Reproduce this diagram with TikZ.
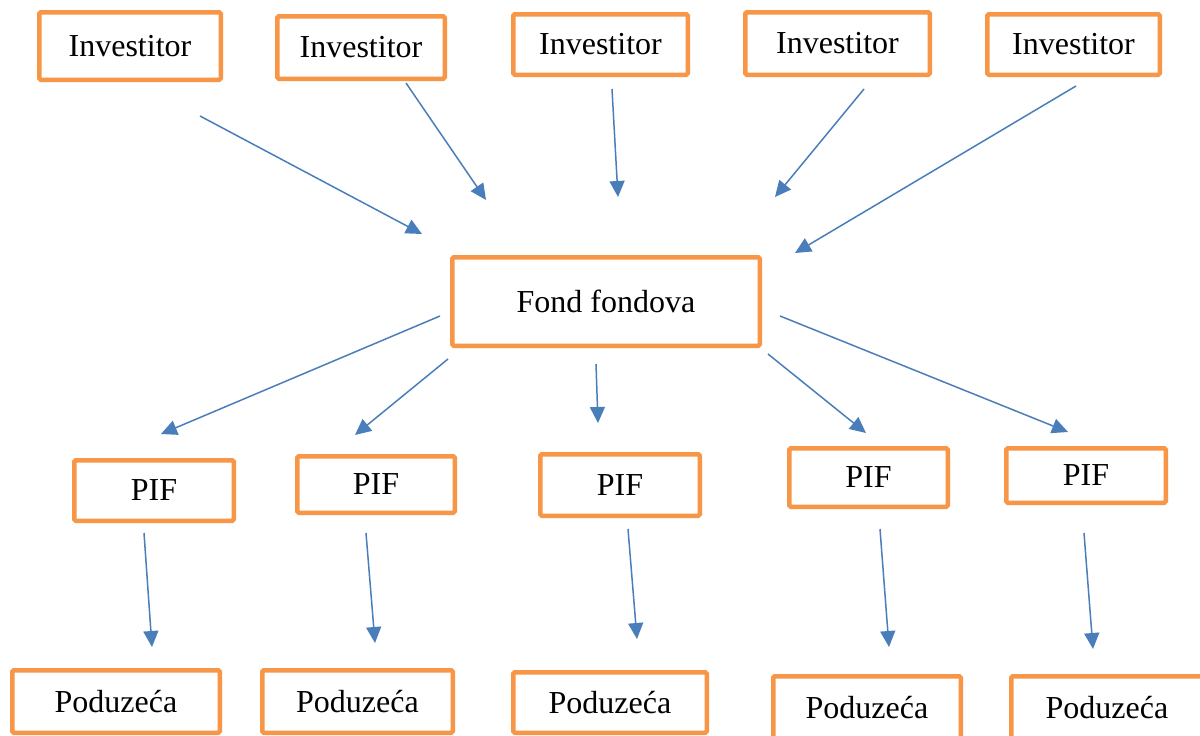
\documentclass[tikz,border=0pt]{standalone}
\usepackage{fontspec}
\setmainfont{Liberation Serif}
\usetikzlibrary{arrows.meta}
\definecolor{boxorange}{HTML}{F79646}
\definecolor{arrowblue}{HTML}{4A7EBB}
\tikzset{
  box/.style={draw=boxorange, line width=4.5pt, rounded corners=1.5pt, fill=white,
    inner sep=0pt, font=\fontsize{32}{38}\selectfont, text=black},
  conn/.style={draw=arrowblue, line width=1.5pt,
    -{Triangle[length=16pt,width=15pt]}},
}
\begin{document}
\begin{tikzpicture}[x=1pt,y=-1pt]
\useasboundingbox (0,0) rectangle (1200,736);
\clip (0,0) rectangle (1200,736);
\fill[white] (0,0) rectangle (1200,736);
% investors
\node[box, minimum width=181.5pt, minimum height=67.5pt] (i1) at (130,46) {Investitor};
\node[box, minimum width=167.5pt, minimum height=62.5pt] (i2) at (361,47.5) {Investitor};
\node[box, minimum width=174.5pt, minimum height=60.5pt] (i3) at (600.5,44.5) {Investitor};
\node[box, minimum width=184.5pt, minimum height=62.5pt] (i4) at (837.5,43.5) {Investitor};
\node[box, minimum width=172.5pt, minimum height=60.5pt] (i5) at (1073.5,44.5) {Investitor};
% fund of funds
\node[box, minimum width=307.5pt, minimum height=88.5pt] (f) at (606,301.5) {Fond fondova};
% PIF
\node[box, minimum width=159.5pt, minimum height=60.5pt] (p1) at (154,490.5) {PIF};
\node[box, minimum width=157.5pt, minimum height=56.5pt] (p2) at (376,484.5) {PIF};
\node[box, minimum width=159.5pt, minimum height=61.5pt] (p3) at (620,485) {PIF};
\node[box, minimum width=158.5pt, minimum height=58.5pt] (p4) at (868.5,477.5) {PIF};
\node[box, minimum width=159.5pt, minimum height=54.5pt] (p5) at (1086,475.5) {PIF};
% companies
\node[box, minimum width=207.5pt, minimum height=62.5pt] (d1) at (116,701.5) {Poduzeća};
\node[box, minimum width=190.5pt, minimum height=62.5pt] (d2) at (357.5,701.5) {Poduzeća};
\node[box, minimum width=193.5pt, minimum height=60.5pt] (d3) at (610,702.5) {Poduzeća};
\node[box, minimum width=187.5pt, minimum height=62.5pt] (d4) at (867,707.5) {Poduzeća};
\node[box, minimum width=191.5pt, minimum height=62.5pt] (d5) at (1107,707.5) {Poduzeća};
% arrow end points
\coordinate (a1s) at (200,116);  \coordinate (a1e) at (422,234);
\coordinate (a2s) at (406,83);   \coordinate (a2e) at (486,200);
\coordinate (a3s) at (612,89);   \coordinate (a3e) at (618,197);
\coordinate (a4s) at (864,89);   \coordinate (a4e) at (775,197);
\coordinate (a5s) at (1076,86);  \coordinate (a5e) at (795,253);
\coordinate (b1s) at (440,316);  \coordinate (b1e) at (161,434);
\coordinate (b2s) at (448,359);  \coordinate (b2e) at (355,435);
\coordinate (b3s) at (596,364);  \coordinate (b3e) at (598,423);
\coordinate (b4s) at (768,354);  \coordinate (b4e) at (866,433);
\coordinate (b5s) at (780,316);  \coordinate (b5e) at (1068,432);
\coordinate (c1s) at (144,533);  \coordinate (c1e) at (152,647);
\coordinate (c2s) at (366,533);  \coordinate (c2e) at (375,643);
\coordinate (c3s) at (628,529);  \coordinate (c3e) at (637,639);
\coordinate (c4s) at (880,529);  \coordinate (c4e) at (889,647);
\coordinate (c5s) at (1084,533); \coordinate (c5e) at (1093,649);
% connectors
\foreach \n in {a1,a2,a3,a4,a5,b1,b2,b3,b4,b5,c1,c2,c3,c4,c5}
  \draw[conn] (\n s) -- (\n e);
\end{tikzpicture}
\end{document}
